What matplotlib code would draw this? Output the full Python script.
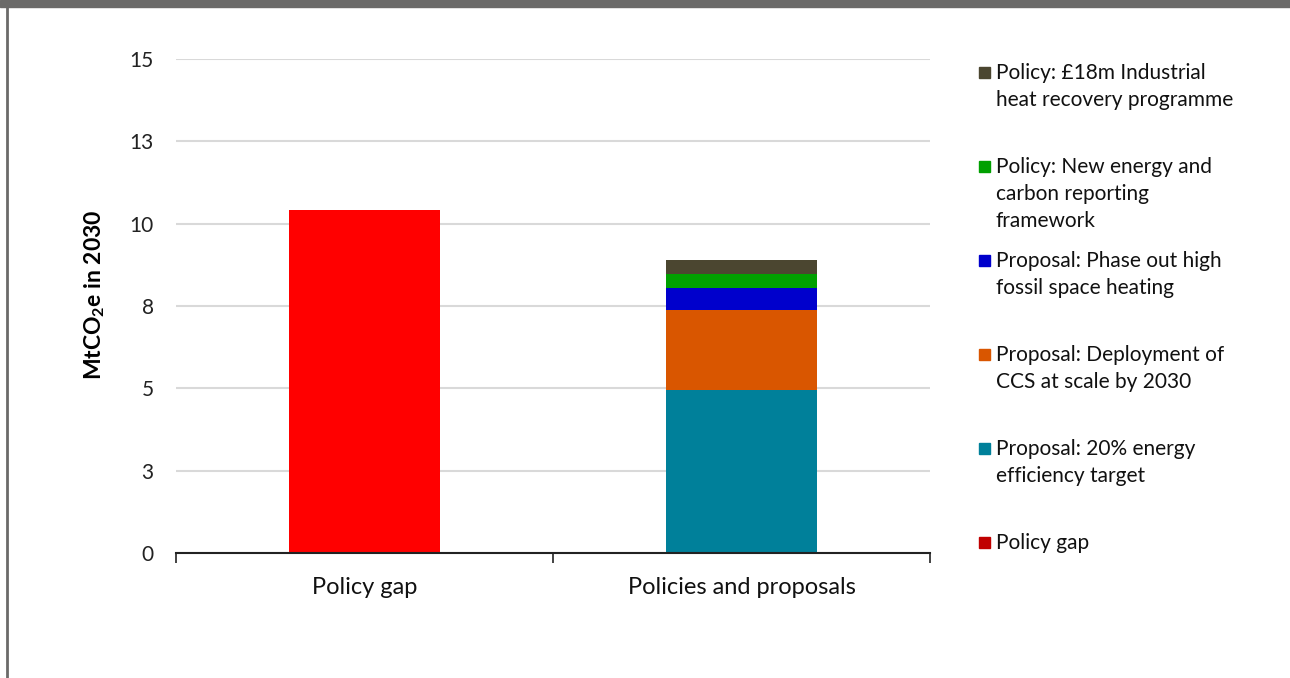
import matplotlib
matplotlib.use("Agg")
import matplotlib.pyplot as plt
from matplotlib.patches import Rectangle
from matplotlib.lines import Line2D

plt.rcParams['font.family'] = ['Lato', 'DejaVu Sans']
plt.rcParams['mathtext.fontset'] = 'custom'
plt.rcParams['mathtext.rm'] = 'Lato'
plt.rcParams['mathtext.bf'] = 'Lato:bold'

# data (MtCO2e in 2030)
categories = ["Policy gap", "Policies and proposals"]
policy_gap = [10.40, 0]
efficiency_target = [0, 4.95]
ccs_deployment = [0, 2.44]
fossil_heating = [0, 0.66]
reporting_framework = [0, 0.43]
heat_recovery = [0, 0.42]

series_labels = [
    "Policy: £18m Industrial\nheat recovery programme",
    "Policy: New energy and\ncarbon reporting\nframework",
    "Proposal: Phase out high\nfossil space heating",
    "Proposal: Deployment of\nCCS at scale by 2030",
    "Proposal: 20% energy\nefficiency target",
    "Policy gap",
]
legend_colors = ["#4b4630", "#00a000", "#0000cc", "#d95600", "#00809a", "#c00000"]

yticks = [0, 2.5, 5, 7.5, 10, 12.5, 15]
ytick_labels = ["0", "3", "5", "8", "10", "13", "15"]

fig = plt.figure(figsize=(12.9, 6.78), dpi=100)
ax = fig.add_axes([0.1364, 0.1844, 0.5845, 0.7286])

x = range(len(categories))
w = 0.4
ax.bar(x, policy_gap, width=w, color="#ff0000", zorder=3)
stack = [efficiency_target, ccs_deployment, fossil_heating, reporting_framework, heat_recovery]
stack_colors = ["#00809a", "#d95600", "#0000cc", "#00a000", "#4b4630"]
bottom = [0, 0]
for vals, c in zip(stack, stack_colors):
    ax.bar(x, vals, width=w, bottom=bottom, color=c, zorder=3)
    bottom = [b + v for b, v in zip(bottom, vals)]

ax.set_xlim(-0.5, 1.5)
ax.set_ylim(0, 15)
ax.set_yticks(yticks)
ax.set_yticklabels(ytick_labels, fontsize=15, color="#222222")
ax.set_xticks(list(x))
ax.set_xticklabels(categories, fontsize=17, color="#111111")
ax.set_xticks([-0.5, 0.5, 1.5], minor=True)
ax.tick_params(axis="y", length=0, pad=16)
ax.tick_params(axis="x", which="major", length=0, pad=17)
ax.tick_params(axis="x", which="minor", length=7, width=1.2, color="#222222")
ax.grid(axis="y", color="#d9d9d9", linewidth=1.5, zorder=0)
for s in ["left", "right", "top"]:
    ax.spines[s].set_visible(False)
ax.spines["bottom"].set_color("#222222")
ax.spines["bottom"].set_linewidth(1.5)
ax.spines["bottom"].set_zorder(4)

fig.text(95 / 1290, 1 - 295 / 678, r"MtCO$_\mathbf{2}$e in 2030", rotation=90, fontsize=16.5,
         fontweight="bold", ha="center", va="center")

# legend drawn by hand to match the spacing in the original
y0 = 1 - 72 / 678
step = 94 / 678
for i, (lab, c) in enumerate(zip(series_labels, legend_colors)):
    yy = y0 - i * step
    fig.patches.append(Rectangle((979 / 1290, yy - 6 / 678), 11 / 1290, 11 / 678,
                                 transform=fig.transFigure, color=c))
    fig.text(996 / 1290, yy + 9 / 678, lab, fontsize=15, va="top", ha="left",
             linespacing=1.45, color="#111111")

# frame: top grey band and left rule
fig.patches.append(Rectangle((0, 1 - 7 / 678), 1, 7 / 678, transform=fig.transFigure,
                             color="#6b6a69"))
fig.lines.append(Line2D([7 / 1290, 7 / 1290], [0, 1], transform=fig.transFigure,
                        color="#6b6a69", linewidth=2))

fig.savefig("out.png", dpi=100)
